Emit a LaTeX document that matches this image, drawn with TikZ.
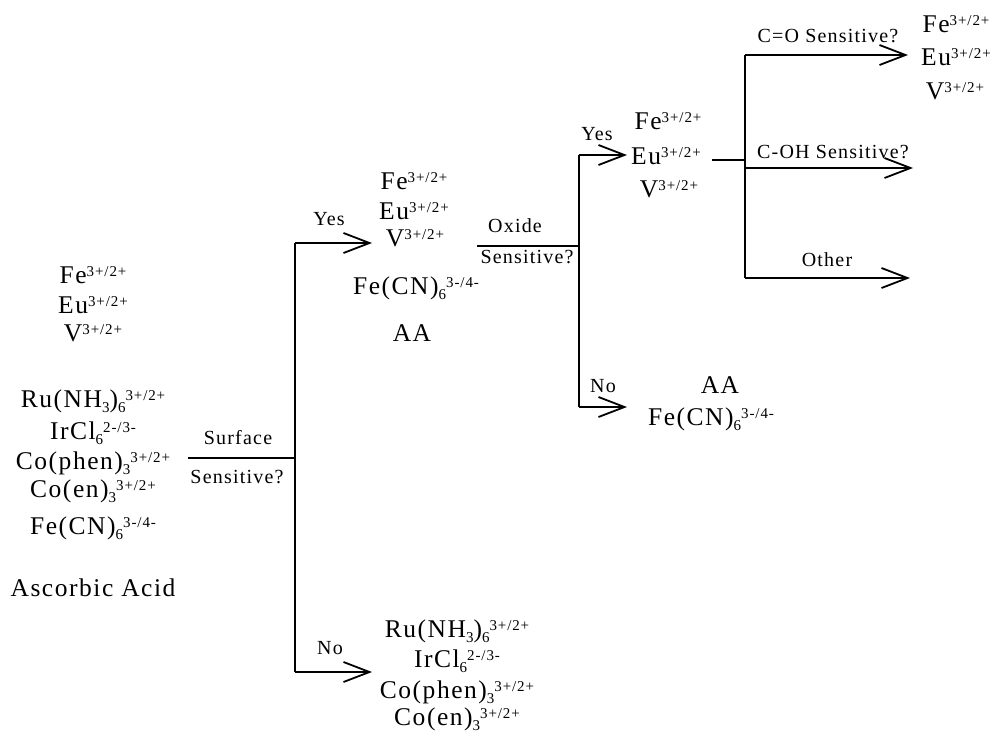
\documentclass[tikz,border=0pt]{standalone}
\usepackage{fontspec}
\setmainfont{Liberation Serif}[LetterSpace=6]
\usepackage{tikz}
\usetikzlibrary{arrows.meta}
\newcommand{\chg}[1]{\raisebox{7pt}{\fontsize{15}{15}\selectfont #1}}
\newcommand{\sbs}[1]{\raisebox{-5pt}{\fontsize{15}{15}\selectfont #1}}
\tikzset{
  spc/.style ={anchor=base, inner sep=0pt, font=\fontsize{25.5}{28}\selectfont},
  lbl/.style ={anchor=base, inner sep=0pt, font=\fontsize{20}{22}\selectfont},
  ln/.style  ={line width=1.8pt},
  ar/.style  ={ln, -{Straight Barb[length=26pt,width=20pt,line width=1.8pt]}},
}
\begin{document}
\begin{tikzpicture}[x=1pt,y=-1pt]
\useasboundingbox (0,0) rectangle (990,734);
% starting set
\node[spc] (lFe)  at (93,283) {Fe\chg{3+/2+}};
\node[spc] (lEu)  at (93,313) {Eu\chg{3+/2+}};
\node[spc] (lV)   at (93,341) {V\chg{3+/2+}};
\node[spc] (lRu)  at (93,407) {Ru(NH\sbs{3})\sbs{6}\chg{3+/2+}};
\node[spc] (lIr)  at (93,439) {IrCl\sbs{6}\chg{2-/3-}};
\node[spc] (lCop) at (93,469) {Co(phen)\sbs{3}\chg{3+/2+}};
\node[spc] (lCoe) at (93,497) {Co(en)\sbs{3}\chg{3+/2+}};
\node[spc] (lFcn) at (93,534) {Fe(CN)\sbs{6}\chg{3-/4-}};
\node[spc] (lAA)  at (93,596) {Ascorbic Acid};
% surface sensitive?
\coordinate (sA) at (188,458);
\coordinate (sJ) at (295,458);
\node[lbl] (qS1) at (238,444) {Surface};
\node[lbl] (qS2) at (237,483) {Sensitive?};
\coordinate (sY) at (295,243);
\coordinate (sN) at (295,672);
\coordinate (sYe) at (372,243);
\coordinate (sNe) at (372,672);
\node[lbl] (sYl) at (329,225) {Yes};
\node[lbl] (sNl) at (330,654) {No};
\draw[ln] (sA) -- (sJ);
\draw[ln] (sY) -- (sN);
\draw[ar] (sY) -- (sYe);
\draw[ar] (sN) -- (sNe);
% surface sensitive: yes
\node[spc] (mFe)  at (414,189) {Fe\chg{3+/2+}};
\node[spc] (mEu)  at (414,219) {Eu\chg{3+/2+}};
\node[spc] (mV)   at (415,246) {V\chg{3+/2+}};
\node[spc] (mFcn) at (416,294) {Fe(CN)\sbs{6}\chg{3-/4-}};
\node[spc] (mAA)  at (412,341) {AA};
% surface sensitive: no
\node[spc] (bRu)  at (457,637) {Ru(NH\sbs{3})\sbs{6}\chg{3+/2+}};
\node[spc] (bIr)  at (457,667) {IrCl\sbs{6}\chg{2-/3-}};
\node[spc] (bCop) at (457,698) {Co(phen)\sbs{3}\chg{3+/2+}};
\node[spc] (bCoe) at (457,725) {Co(en)\sbs{3}\chg{3+/2+}};
% oxide sensitive?
\coordinate (oA) at (477,246);
\coordinate (oJ) at (579,246);
\node[lbl] (qO1) at (515,232) {Oxide};
\node[lbl] (qO2) at (527,263) {Sensitive?};
\coordinate (oY) at (579,155);
\coordinate (oN) at (579,407);
\coordinate (oYe) at (627,155);
\coordinate (oNe) at (627,407);
\node[lbl] (oYl) at (597,140) {Yes};
\node[lbl] (oNl) at (603,392) {No};
\draw[ln] (oA) -- (oJ);
\draw[ln] (oY) -- (oN);
\draw[ar] (oY) -- (oYe);
\draw[ar] (oN) -- (oNe);
% oxide sensitive: yes
\node[spc] (rFe)  at (668,129) {Fe\chg{3+/2+}};
\node[spc] (rEu)  at (666,164) {Eu\chg{3+/2+}};
\node[spc] (rV)   at (669,197) {V\chg{3+/2+}};
% oxide sensitive: no
\node[spc] (nAA)  at (720,393) {AA};
\node[spc] (nFcn) at (711,425) {Fe(CN)\sbs{6}\chg{3-/4-}};
% functional groups
\coordinate (fA) at (712,160);
\coordinate (fJ) at (745,160);
\coordinate (fT) at (745,55);
\coordinate (fB) at (745,278);
\coordinate (fTe) at (908,55);
\coordinate (fMe) at (913,168);
\coordinate (fM)  at (745,168);
\coordinate (fBe) at (910,278);
\node[lbl] (fTl) at (828,42)  {C=O Sensitive?};
\node[lbl] (fMl) at (833,158) {C-OH Sensitive?};
\node[lbl] (fBl) at (827,266) {Other};
\draw[ln] (fA) -- (fJ);
\draw[ln] (fT) -- (fB);
\draw[ar] (fT) -- (fTe);
\draw[ar] (fM) -- (fMe);
\draw[ar] (fB) -- (fBe);
% C=O sensitive
\node[spc] (tFe)  at (956,32) {Fe\chg{3+/2+}};
\node[spc] (tEu)  at (956,65) {Eu\chg{3+/2+}};
\node[spc] (tV)   at (955,99) {V\chg{3+/2+}};
\end{tikzpicture}
\end{document}
